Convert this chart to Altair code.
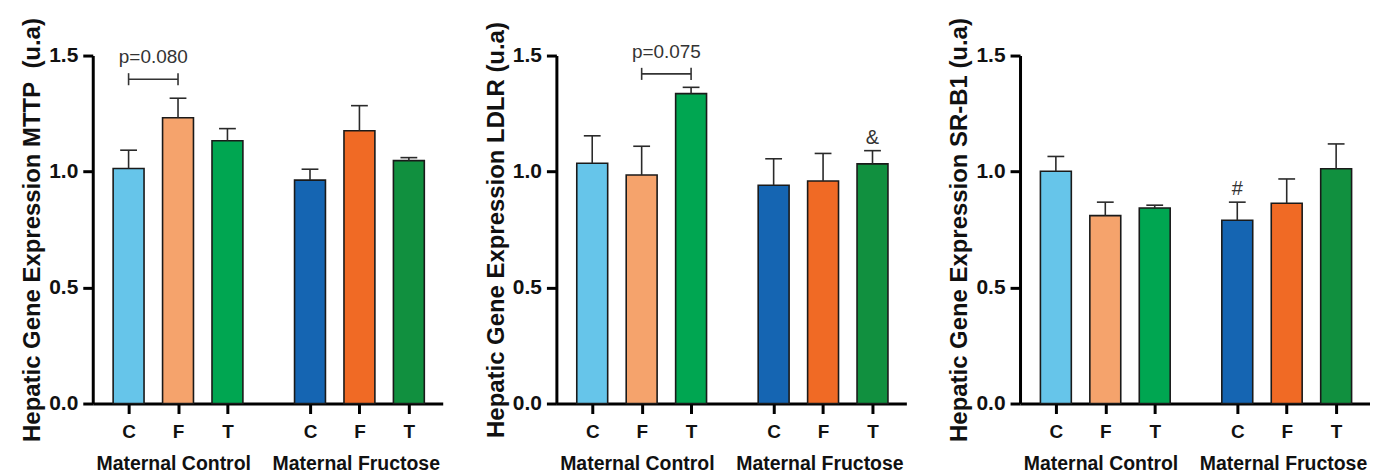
import altair as alt
import pandas as pd

# ---------------- data ----------------
treatments = ["C", "F", "T", "C", "F", "T"]
groups = ["Maternal Control"] * 3 + ["Maternal Fructose"] * 3
bar_keys = ["C_MC", "F_MC", "T_MC", "C_MF", "F_MF", "T_MF"]
bar_colors = ["#66C5EA", "#F5A36C", "#00A651", "#1565B2", "#F06A25", "#11903F"]

mttp_mean = [1.013, 1.232, 1.133, 0.963, 1.176, 1.047]
mttp_sem = [0.079, 0.084, 0.052, 0.047, 0.108, 0.013]

ldlr_mean = [1.036, 0.985, 1.336, 0.941, 0.959, 1.033]
ldlr_sem = [0.118, 0.124, 0.027, 0.114, 0.119, 0.057]

srb1_mean = [1.001, 0.810, 0.843, 0.790, 0.863, 1.012]
srb1_sem = [0.064, 0.058, 0.012, 0.078, 0.105, 0.107]

NBSP = "\u00a0"
y_titles = [
    "Hepatic Gene Expression MTTP" + NBSP + NBSP + "(u.a)",
    "Hepatic Gene Expression LDLR (u.a)",
    "Hepatic Gene Expression SR-B1 (u.a)",
]
x_title = "Maternal Control" + NBSP * 4 + "Maternal Fructose"
y_ticks = [0.0, 0.5, 1.0, 1.5]

# significance brackets: (from bar index, to bar index, level, label)
mttp_bracket = (0, 1, 1.398, "p=0.080")
ldlr_bracket = (1, 2, 1.421, "p=0.075")
# single-bar annotations: (bar index, symbol)
ldlr_marks = [(5, "&")]
srb1_marks = [(3, "#")]

# ---------------- layout helpers ----------------
FONT = "Liberation Sans"
GROUP_GAP = 0.67
pos = [0.725 + i + (GROUP_GAP if i >= 3 else 0.0) for i in range(6)]
XMAX = 7.08
CAP = 0.17
PANEL_W = 351
PANEL_H = 349

label_expr = "".join(
    f"abs(datum.value - {p:.4f}) < 0.01 ? '{t}' : " for p, t in zip(pos, treatments)
) + "''"


def x_enc(field):
    return alt.X(
        field,
        scale=alt.Scale(domain=[0, XMAX], nice=False, zero=False, padding=0),
        axis=alt.Axis(
            values=pos,
            labelExpr=label_expr,
            title=x_title,
            labelFontSize=19,
            labelPadding=9,
            titleFontSize=19.5,
            titleFontWeight="bold",
            titlePadding=13,
            grid=False,
        ),
    )


def y_enc(field, title):
    return alt.Y(
        field,
        scale=alt.Scale(domain=[0, 1.5], nice=False, padding=0),
        axis=alt.Axis(
            values=y_ticks,
            format=".1f",
            title=title,
            labelFontSize=21,
            labelPadding=5,
            titleFontSize=24,
            titleFontWeight="bold",
            titlePadding=4,
            grid=False,
        ),
    )


def panel(mean, sem, title, bracket=None, marks=None):
    df = pd.DataFrame(
        {
            "pos": pos,
            "mean": mean,
            "top": [m + s for m, s in zip(mean, sem)],
            "lo": [p - CAP for p in pos],
            "hi": [p + CAP for p in pos],
            "key": bar_keys,
            "treat": treatments,
            "group": groups,
        }
    )
    base = alt.Chart(df)
    bars = base.mark_bar(size=31, stroke="#1a1a1a", strokeWidth=1.6).encode(
        x=x_enc("pos:Q"),
        y=y_enc("mean:Q", title),
        color=alt.Color(
            "key:N", scale=alt.Scale(domain=bar_keys, range=bar_colors), legend=None
        ),
    )
    stems = base.mark_rule(color="#2a2a2a", strokeWidth=1.6).encode(
        x=x_enc("pos:Q"), y=y_enc("mean:Q", title), y2="top:Q"
    )
    caps = base.mark_rule(color="#2a2a2a", strokeWidth=1.6).encode(
        x=x_enc("lo:Q"), x2="hi:Q", y=y_enc("top:Q", title)
    )
    layers = [bars, stems, caps]

    if bracket is not None:
        a, b, level, label = bracket
        bdf = pd.DataFrame(
            {
                "x1": [pos[a]],
                "x2": [pos[b]],
                "mid": [(pos[a] + pos[b]) / 2],
                "lvl": [level],
                "lo": [level - 0.026],
                "hi": [level + 0.026],
                "label": [label],
            }
        )
        bb = alt.Chart(bdf)
        layers.append(
            bb.mark_rule(color="#333333", strokeWidth=1.6).encode(
                x=x_enc("x1:Q"), x2="x2:Q", y=y_enc("lvl:Q", title)
            )
        )
        layers.append(
            bb.mark_rule(color="#333333", strokeWidth=1.6).encode(
                x=x_enc("x1:Q"), y=y_enc("lo:Q", title), y2="hi:Q"
            )
        )
        layers.append(
            bb.mark_rule(color="#333333", strokeWidth=1.6).encode(
                x=x_enc("x2:Q"), y=y_enc("lo:Q", title), y2="hi:Q"
            )
        )
        layers.append(
            bb.mark_text(
                font=FONT, fontSize=19, color="#333333", dy=-16, baseline="alphabetic"
            ).encode(x=x_enc("mid:Q"), y=y_enc("lvl:Q", title), text="label:N")
        )

    if marks:
        mdf = pd.DataFrame(
            {
                "x": [pos[i] for i, _ in marks],
                "y": [mean[i] + sem[i] for i, _ in marks],
                "sym": [s for _, s in marks],
            }
        )
        layers.append(
            alt.Chart(mdf)
            .mark_text(font=FONT, fontSize=20, color="#333333", dy=-7, baseline="alphabetic")
            .encode(x=x_enc("x:Q"), y=y_enc("y:Q", title), text="sym:N")
        )

    return alt.layer(*layers).properties(width=PANEL_W, height=PANEL_H)


p1 = panel(mttp_mean, mttp_sem, y_titles[0], bracket=mttp_bracket)
p2 = panel(ldlr_mean, ldlr_sem, y_titles[1], bracket=ldlr_bracket, marks=ldlr_marks)
p3 = panel(srb1_mean, srb1_sem, y_titles[2], marks=srb1_marks)

chart = (
    alt.hconcat(p1, p2, p3, spacing=41)
    .properties(
        padding={"left": 12, "top": 8, "right": 0, "bottom": 0}, background="white"
    )
    .configure_view(stroke=None)
    .configure_axis(
        domainColor="#000000",
        domainWidth=3,
        tickColor="#000000",
        tickWidth=3,
        tickSize=10,
        labelFont=FONT,
        labelFontWeight="bold",
        labelColor="#111111",
        titleFont=FONT,
        titleColor="#111111",
    )
)

chart.save("out.html", embed_options={"renderer": "svg", "actions": False})
